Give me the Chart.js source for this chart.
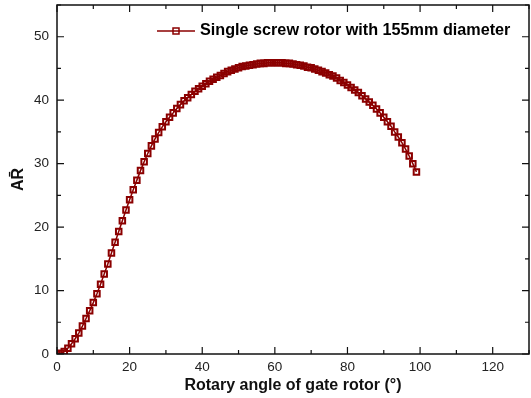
<!DOCTYPE html>
<html>
<head>
<meta charset="utf-8">
<script src="https://cdn.jsdelivr.net/npm/chart.js@4"></script>
<style>
  html, body { margin: 0; padding: 0; background: #fff; }
  #wrap { width: 531px; height: 398px; position: relative; }
</style>
</head>
<body>
<div id="wrap"><canvas id="arChart"></canvas></div>
<script>
// rotary angle of gate rotor (deg)
const angles = [
  0, 1, 2, 3, 4, 5, 6, 7, 8, 9,
  10, 11, 12, 13, 14, 15, 16, 17, 18, 19,
  20, 21, 22, 23, 24, 25, 26, 27, 28, 29,
  30, 31, 32, 33, 34, 35, 36, 37, 38, 39,
  40, 41, 42, 43, 44, 45, 46, 47, 48, 49,
  50, 51, 52, 53, 54, 55, 56, 57, 58, 59,
  60, 61, 62, 63, 64, 65, 66, 67, 68, 69,
  70, 71, 72, 73, 74, 75, 76, 77, 78, 79,
  80, 81, 82, 83, 84, 85, 86, 87, 88, 89,
  90, 91, 92, 93, 94, 95, 96, 97, 98, 99,
];
// AR values
const arValues = [
  0, 0.1, 0.4, 0.9, 1.6, 2.4, 3.3, 4.4, 5.6, 6.8,
  8.1, 9.5, 11.0, 12.6, 14.2, 15.9, 17.6, 19.3, 21.0, 22.7,
  24.3, 25.9, 27.4, 28.9, 30.3, 31.6, 32.8, 33.9, 34.9, 35.8,
  36.6, 37.3, 38.0, 38.7, 39.3, 39.9, 40.4, 40.9, 41.4, 41.8,
  42.2, 42.6, 43.0, 43.3, 43.6, 43.9, 44.2, 44.5, 44.7, 44.9,
  45.1, 45.3, 45.4, 45.5, 45.6, 45.7, 45.8, 45.8, 45.9, 45.9,
  45.9, 45.9, 45.9, 45.8, 45.8, 45.7, 45.6, 45.5, 45.4, 45.2,
  45.1, 44.9, 44.7, 44.5, 44.3, 44.0, 43.8, 43.5, 43.1, 42.8,
  42.4, 42.0, 41.6, 41.2, 40.7, 40.2, 39.7, 39.2, 38.6, 38.0,
  37.3, 36.6, 35.9, 35.0, 34.2, 33.3, 32.3, 31.2, 30.0, 28.7,
];
const seriesName = "Single screw rotor with 155mm diameter";
const xTicks = [0, 20, 40, 60, 80, 100, 120];
const yTicks = [0, 10, 20, 30, 40, 50];

const lineColor = "#8b0000";

// inward ticks on all four sides plus the frame, like the original plot
const frameTicks = {
  id: "frameTicks",
  afterDraw(chart) {
    const ctx = chart.ctx;
    const a = chart.chartArea;
    const xs = chart.scales.x;
    const ys = chart.scales.y;
    ctx.save();
    ctx.strokeStyle = "#111";
    ctx.lineWidth = 1.5;
    ctx.strokeRect(a.left, a.top, a.right - a.left, a.bottom - a.top);
    ctx.lineWidth = 1.2;
    ctx.beginPath();
    for (let v = 0; v <= 130; v += 10) {
      const px = xs.getPixelForValue(v);
      const len = v % 20 === 0 ? 7 : 4;
      ctx.moveTo(px, a.bottom);
      ctx.lineTo(px, a.bottom - len);
      ctx.moveTo(px, a.top);
      ctx.lineTo(px, a.top + len);
    }
    for (let v = 0; v <= 55; v += 5) {
      const py = ys.getPixelForValue(v);
      const len = v % 10 === 0 ? 7 : 4;
      ctx.moveTo(a.left, py);
      ctx.lineTo(a.left + len, py);
      ctx.moveTo(a.right, py);
      ctx.lineTo(a.right - len, py);
    }
    ctx.stroke();

    // legend
    const ly = 31;
    ctx.strokeStyle = lineColor;
    ctx.lineWidth = 1.5;
    ctx.beginPath();
    ctx.moveTo(157, ly);
    ctx.lineTo(195, ly);
    ctx.stroke();
    ctx.strokeRect(173, ly - 3, 6, 6);
    ctx.fillStyle = "#000";
    ctx.font = "bold 16.2px 'Liberation Sans', Arial, sans-serif";
    ctx.textBaseline = "middle";
    ctx.textAlign = "left";
    ctx.fillText(seriesName, 200, ly);
    ctx.restore();
  },
};

const ctx = document.getElementById("arChart").getContext("2d");
new Chart(ctx, {
  type: "line",
  data: {
    datasets: [
      {
        label: seriesName,
        data: angles.map((x, i) => ({ x: x, y: arValues[i] })),
        borderColor: lineColor,
        backgroundColor: "rgba(255,255,255,0)",
        borderWidth: 1.5,
        pointStyle: "rect",
        pointRadius: 3.9,
        pointBorderWidth: 2,
        pointBorderColor: lineColor,
        pointBackgroundColor: "rgba(255,255,255,0)",
        tension: 0,
      },
    ],
  },
  options: {
    responsive: true,
    maintainAspectRatio: false,
    animation: false,
    layout: { autoPadding: false, padding: { top: 5, right: 2, bottom: 0, left: 0 } },
    plugins: {
      legend: { display: false },
      tooltip: { enabled: false },
    },
    scales: {
      x: {
        type: "linear",
        min: 0,
        max: 130,
        afterBuildTicks: (s) => {
          s.ticks = xTicks.map((v) => ({ value: v }));
        },
        afterFit: (s) => {
          s.height = 44;
          s.paddingLeft = 0;
          s.paddingRight = 0;
        },
        grid: { display: false, drawTicks: false },
        border: { display: false },
        ticks: {
          padding: 5,
          color: "#222",
          font: { family: "'Liberation Sans', Arial, sans-serif", size: 13.5 },
        },
        title: {
          display: true,
          text: "Rotary angle of gate rotor (°)",
          color: "#111",
          padding: { top: 0, bottom: 3 },
          font: { family: "'Liberation Sans', Arial, sans-serif", size: 16, weight: "bold" },
        },
      },
      y: {
        type: "linear",
        min: 0,
        max: 55,
        afterBuildTicks: (s) => {
          s.ticks = yTicks.map((v) => ({ value: v }));
        },
        afterFit: (s) => {
          s.width = 57;
          s.paddingTop = 0;
          s.paddingBottom = 0;
        },
        grid: { display: false, drawTicks: false },
        border: { display: false },
        ticks: {
          padding: 8,
          color: "#222",
          font: { family: "'Liberation Sans', Arial, sans-serif", size: 13.5 },
        },
        title: {
          display: true,
          text: "AR\u0304",
          color: "#111",
          padding: { top: 9, bottom: 0 },
          font: { family: "'Liberation Sans', Arial, sans-serif", size: 16, weight: "bold" },
        },
      },
    },
  },
  plugins: [frameTicks],
});
</script>
</body>
</html>
